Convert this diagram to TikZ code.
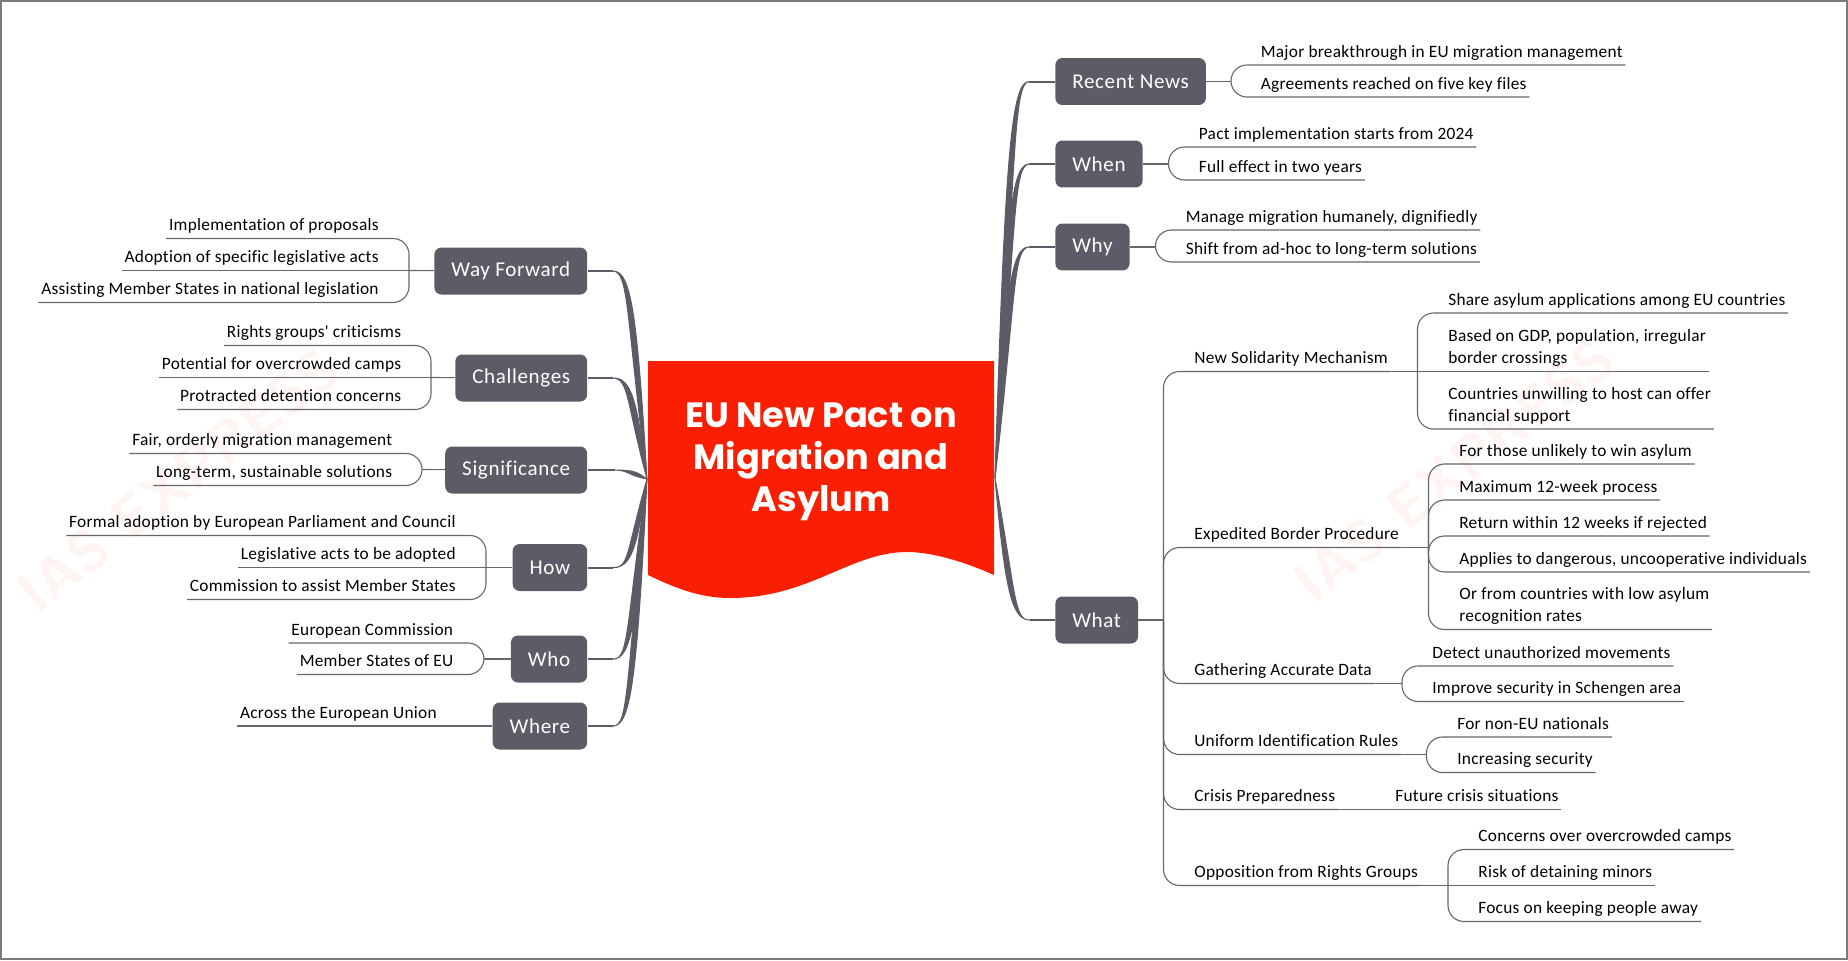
\documentclass[tikz,border=0pt]{standalone}
\usepackage{fontspec}
\setmainfont{Carlito}
\newfontfamily\leaffont[LetterSpace=1.5,Ligatures=NoCommon]{Carlito}
\newfontfamily\titlefont{Poppins}
\newfontfamily\topicfont[LetterSpace=3,Ligatures=NoCommon]{Carlito}
\usetikzlibrary{calc}
\definecolor{slate}{HTML}{5C5C67}
\definecolor{twiggray}{HTML}{66666C}
\definecolor{framegray}{HTML}{7A7A7A}
\definecolor{rootred}{HTML}{FA1E02}
\definecolor{markpink}{HTML}{FEF5F3}
\tikzset{
    frameline/.style={draw=framegray,line width=0.04cm},
    rootbox/.style={align=center,text=white,font=\titlefont\bfseries\fontsize{20}{24}\selectfont},
    topic/.style={rectangle,rounded corners=0.14cm,fill=slate,text=white,minimum height=0.94cm,inner xsep=0.34cm,anchor=west,font=\topicfont\fontsize{12}{13}\selectfont},
    topicl/.style={topic,anchor=east},
    leaf/.style={inner xsep=0.05cm,inner ysep=0.04cm,text depth=0.11cm,align=left,font=\leaffont\fontsize{9.86}{12.4}\selectfont,text=black},
    leafr/.style={leaf,anchor=south west},
    leafl/.style={leaf,anchor=south east,align=right},
    twig/.style={draw=twiggray,line width=0.022cm,rounded corners=0.32cm},
    stem/.style={draw=slate,line width=0.04cm},
    limbline/.style={fill=slate,draw=slate,line width=0.02cm,line join=round},
    stamp/.style={text=markpink,rotate=38,font=\sffamily\bfseries\fontsize{33}{33}\selectfont}
}
\newcommand{\limb}[3]{\filldraw[limbline] (#1) .. controls ($(#1)!0.8!(#1|-#2)+(10*#3,0)$) and ($(#2)+(-18*#3,0)$) .. (#2) .. controls ($(#2)+(-16*#3,1)$) and ($(#1)!0.8!(#1|-#2)+(21*#3,3)$) .. (#1) -- cycle;}
\begin{document}
\begin{tikzpicture}[x=0.02cm,y=-0.02cm]
        \path[frameline] (1,1) rectangle (1847,959);
        \useasboundingbox (0,0) rectangle (1848,960);

        \node at (178,480) [stamp] (m1) {IAS EXPRESS};
        \node at (1454,470) [stamp] (m2) {IAS EXPRESS};

        \fill[rootred] (648,361) -- (994,361) -- (994,575) .. controls (960,560) and (930,552) .. (907,552) .. controls (850,552) and (810,598) .. (730,598) .. controls (700,598) and (675,588) .. (648,575) -- cycle;
        \node at (821,462) [rootbox] (r0) {EU New Pact on\\Migration and\\Asylum};
        \coordinate (hr) at (995,478);
        \coordinate (hl) at (647,479);

        \node at (1055,81.5) [topic] (t1) {Recent News};
        \node at (1055,164) [topic] (t2) {When};
        \node at (1055,247) [topic] (t3) {Why};
        \node at (1055,620) [topic] (t4) {What};
        \node at (587.5,271) [topicl] (t5) {Way Forward};
        \node at (587.5,378) [topicl] (t6) {Challenges};
        \node at (587.5,470) [topicl] (t7) {Significance};
        \node at (587.5,567.5) [topicl] (t8) {How};
        \node at (587.5,659) [topicl] (t9) {Who};
        \node at (587.5,726) [topicl] (t10) {Where};

        \coordinate (b1) at (1029,81.5);
        \coordinate (b2) at (1029,164);
        \coordinate (b3) at (1029,247);
        \coordinate (b4) at (1030,620);
        \coordinate (b5) at (613,271);
        \coordinate (b6) at (613,378);
        \coordinate (b7) at (615,470);
        \coordinate (b8) at (613,567.5);
        \coordinate (b9) at (613,659);
        \coordinate (b10) at (613,726);
        \limb{hr}{b1}{1}
        \limb{hr}{b2}{1}
        \limb{hr}{b3}{1}
        \limb{hr}{b4}{1}
        \limb{hl}{b5}{-1}
        \limb{hl}{b6}{-1}
        \limb{hl}{b7}{-1}
        \limb{hl}{b8}{-1}
        \limb{hl}{b9}{-1}
        \limb{hl}{b10}{-1}
        \draw[stem] (b1) -- (t1);
        \draw[stem] (b2) -- (t2);
        \draw[stem] (b3) -- (t3);
        \draw[stem] (b4) -- (t4);
        \draw[stem] (b5) -- (t5);
        \draw[stem] (b6) -- (t6);
        \draw[stem] (b7) -- (t7);
        \draw[stem] (b8) -- (t8);
        \draw[stem] (b9) -- (t9);
        \draw[stem] (b10) -- (t10);

        \node at (1258,65) [leafr] (a1) {Major breakthrough in EU migration management};
        \node at (1258,97) [leafr] (a2) {Agreements reached on five key files};
        \coordinate (j1) at (1231,81.5);
        \draw[twig] (t1) -- (j1);
        \draw[twig] (j1) |- (a1.south east);
        \draw[twig] (j1) |- (a2.south east);

        \node at (1196,147) [leafr] (b21) {Pact implementation starts from 2024};
        \node at (1196,180) [leafr] (b22) {Full effect in two years};
        \coordinate (j2) at (1168.5,164);
        \draw[twig] (t2) -- (j2);
        \draw[twig] (j2) |- (b21.south east);
        \draw[twig] (j2) |- (b22.south east);

        \node at (1183,230) [leafr] (c1) {Manage migration humanely, dignifiedly};
        \node at (1183,262) [leafr] (c2) {Shift from ad-hoc to long-term solutions};
        \coordinate (j3) at (1155.5,247);
        \draw[twig] (t3) -- (j3);
        \draw[twig] (j3) |- (c1.south east);
        \draw[twig] (j3) |- (c2.south east);

        \coordinate (j4) at (1163.5,620);
        \draw[twig] (t4) -- (j4);
        \node at (1191.5,371.5) [leafr] (d1) {New Solidarity Mechanism};
        \node at (1191.5,547.5) [leafr] (d2) {Expedited Border Procedure};
        \node at (1191.5,683.5) [leafr] (d3) {Gathering Accurate Data};
        \node at (1191.5,754.5) [leafr] (d4) {Uniform Identification Rules};
        \node at (1191.5,809.5) [leafr] (d5) {Crisis Preparedness};
        \node at (1191.5,885.5) [leafr] (d6) {Opposition from Rights Groups};
        \draw[twig] (j4) |- (d1.south east);
        \draw[twig] (j4) |- (d2.south east);
        \draw[twig] (j4) |- (d3.south east);
        \draw[twig] (j4) |- (d4.south east);
        \draw[twig] (j4) |- (d5.south east);
        \draw[twig] (j4) |- (d6.south east);

        \coordinate (j5) at (1417.5,371.5);
        \node at (1445.5,313) [leafr] (e1) {Share asylum applications among EU countries};
        \node at (1445.5,371.5) [leafr] (e2) {Based on GDP, population, irregular\\border crossings};
        \node at (1445.5,429) [leafr] (e3) {Countries unwilling to host can offer\\financial support};
        \draw[twig] (d1.south east) -- (j5);
        \draw[twig] (j5) |- (e1.south east);
        \draw[twig] (j5) -- (e2.south east);
        \draw[twig] (j5) |- (e3.south east);

        \coordinate (j6) at (1428.5,547.5);
        \node at (1456.5,464) [leafr] (f1) {For those unlikely to win asylum};
        \node at (1456.5,500) [leafr] (f2) {Maximum 12-week process};
        \node at (1456.5,536) [leafr] (f3) {Return within 12 weeks if rejected};
        \node at (1456.5,572) [leafr] (f4) {Applies to dangerous, uncooperative individuals};
        \node at (1456.5,629.5) [leafr] (f5) {Or from countries with low asylum\\recognition rates};
        \draw[twig] (d2.south east) -- (j6);
        \draw[twig] (j6) |- (f1.south east);
        \draw[twig] (j6) |- (f2.south east);
        \draw[twig] (j6) |- (f3.south east);
        \draw[twig] (j6) |- (f4.south east);
        \draw[twig] (j6) |- (f5.south east);

        \coordinate (j7) at (1402,683.5);
        \node at (1429.5,666) [leafr] (g1) {Detect unauthorized movements};
        \node at (1429.5,701.5) [leafr] (g2) {Improve security in Schengen area};
        \draw[twig] (d3.south east) -- (j7);
        \draw[twig] (j7) |- (g1.south east);
        \draw[twig] (j7) |- (g2.south east);

        \coordinate (j8) at (1426.5,754.5);
        \node at (1454.5,737) [leafr] (h1) {For non-EU nationals};
        \node at (1454.5,772.5) [leafr] (h2) {Increasing security};
        \draw[twig] (d4.south east) -- (j8);
        \draw[twig] (j8) |- (h1.south east);
        \draw[twig] (j8) |- (h2.south east);

        \node at (1392.5,809.5) [leafr] (k1) {Future crisis situations};
        \draw[twig] (d5.south east) -- (k1.south east);

        \coordinate (j9) at (1448,885.5);
        \node at (1475.5,849.5) [leafr] (l1) {Concerns over overcrowded camps};
        \node at (1475.5,885.5) [leafr] (l2) {Risk of detaining minors};
        \node at (1475.5,921.5) [leafr] (l3) {Focus on keeping people away};
        \draw[twig] (d6.south east) -- (j9);
        \draw[twig] (j9) |- (l1.south east);
        \draw[twig] (j9) -- (l2.south east);
        \draw[twig] (j9) |- (l3.south east);

        \coordinate (j10) at (409,270.5);
        \node at (381.5,238.5) [leafl] (n1) {Implementation of proposals};
        \node at (381.5,270.5) [leafl] (n2) {Adoption of specific legislative acts};
        \node at (381.5,302.5) [leafl] (n3) {Assisting Member States in national legislation};
        \draw[twig] (t5) -- (j10);
        \draw[twig] (j10) |- (n1.south west);
        \draw[twig] (j10) -- (n2.south west);
        \draw[twig] (j10) |- (n3.south west);

        \coordinate (j11) at (431,377.5);
        \node at (404,345.5) [leafl] (o1) {Rights groups' criticisms};
        \node at (404,377.5) [leafl] (o2) {Potential for overcrowded camps};
        \node at (404,409.5) [leafl] (o3) {Protracted detention concerns};
        \draw[twig] (t6) -- (j11);
        \draw[twig] (j11) |- (o1.south west);
        \draw[twig] (j11) -- (o2.south west);
        \draw[twig] (j11) |- (o3.south west);

        \coordinate (j12) at (422,469.5);
        \node at (395,453.5) [leafl] (q1) {Fair, orderly migration management};
        \node at (395,485.5) [leafl] (q2) {Long-term, sustainable solutions};
        \draw[twig] (t7) -- (j12);
        \draw[twig] (j12) |- (q1.south west);
        \draw[twig] (j12) |- (q2.south west);

        \coordinate (j13) at (486,567.5);
        \node at (458.5,535.5) [leafl] (s1) {Formal adoption by European Parliament and Council};
        \node at (458.5,567.5) [leafl] (s2) {Legislative acts to be adopted};
        \node at (458.5,599.5) [leafl] (s3) {Commission to assist Member States};
        \draw[twig] (t8) -- (j13);
        \draw[twig] (j13) |- (s1.south west);
        \draw[twig] (j13) -- (s2.south west);
        \draw[twig] (j13) |- (s3.south west);

        \coordinate (j14) at (484,659);
        \node at (456,643) [leafl] (u1) {European Commission};
        \node at (456,674.5) [leafl] (u2) {Member States of EU};
        \draw[twig] (t9) -- (j14);
        \draw[twig] (j14) |- (u1.south west);
        \draw[twig] (j14) |- (u2.south west);

        \node at (439.5,726) [leafl] (v1) {Across the European Union};
        \draw[twig] (t10) -- (v1.south west);
\end{tikzpicture}
\end{document}
